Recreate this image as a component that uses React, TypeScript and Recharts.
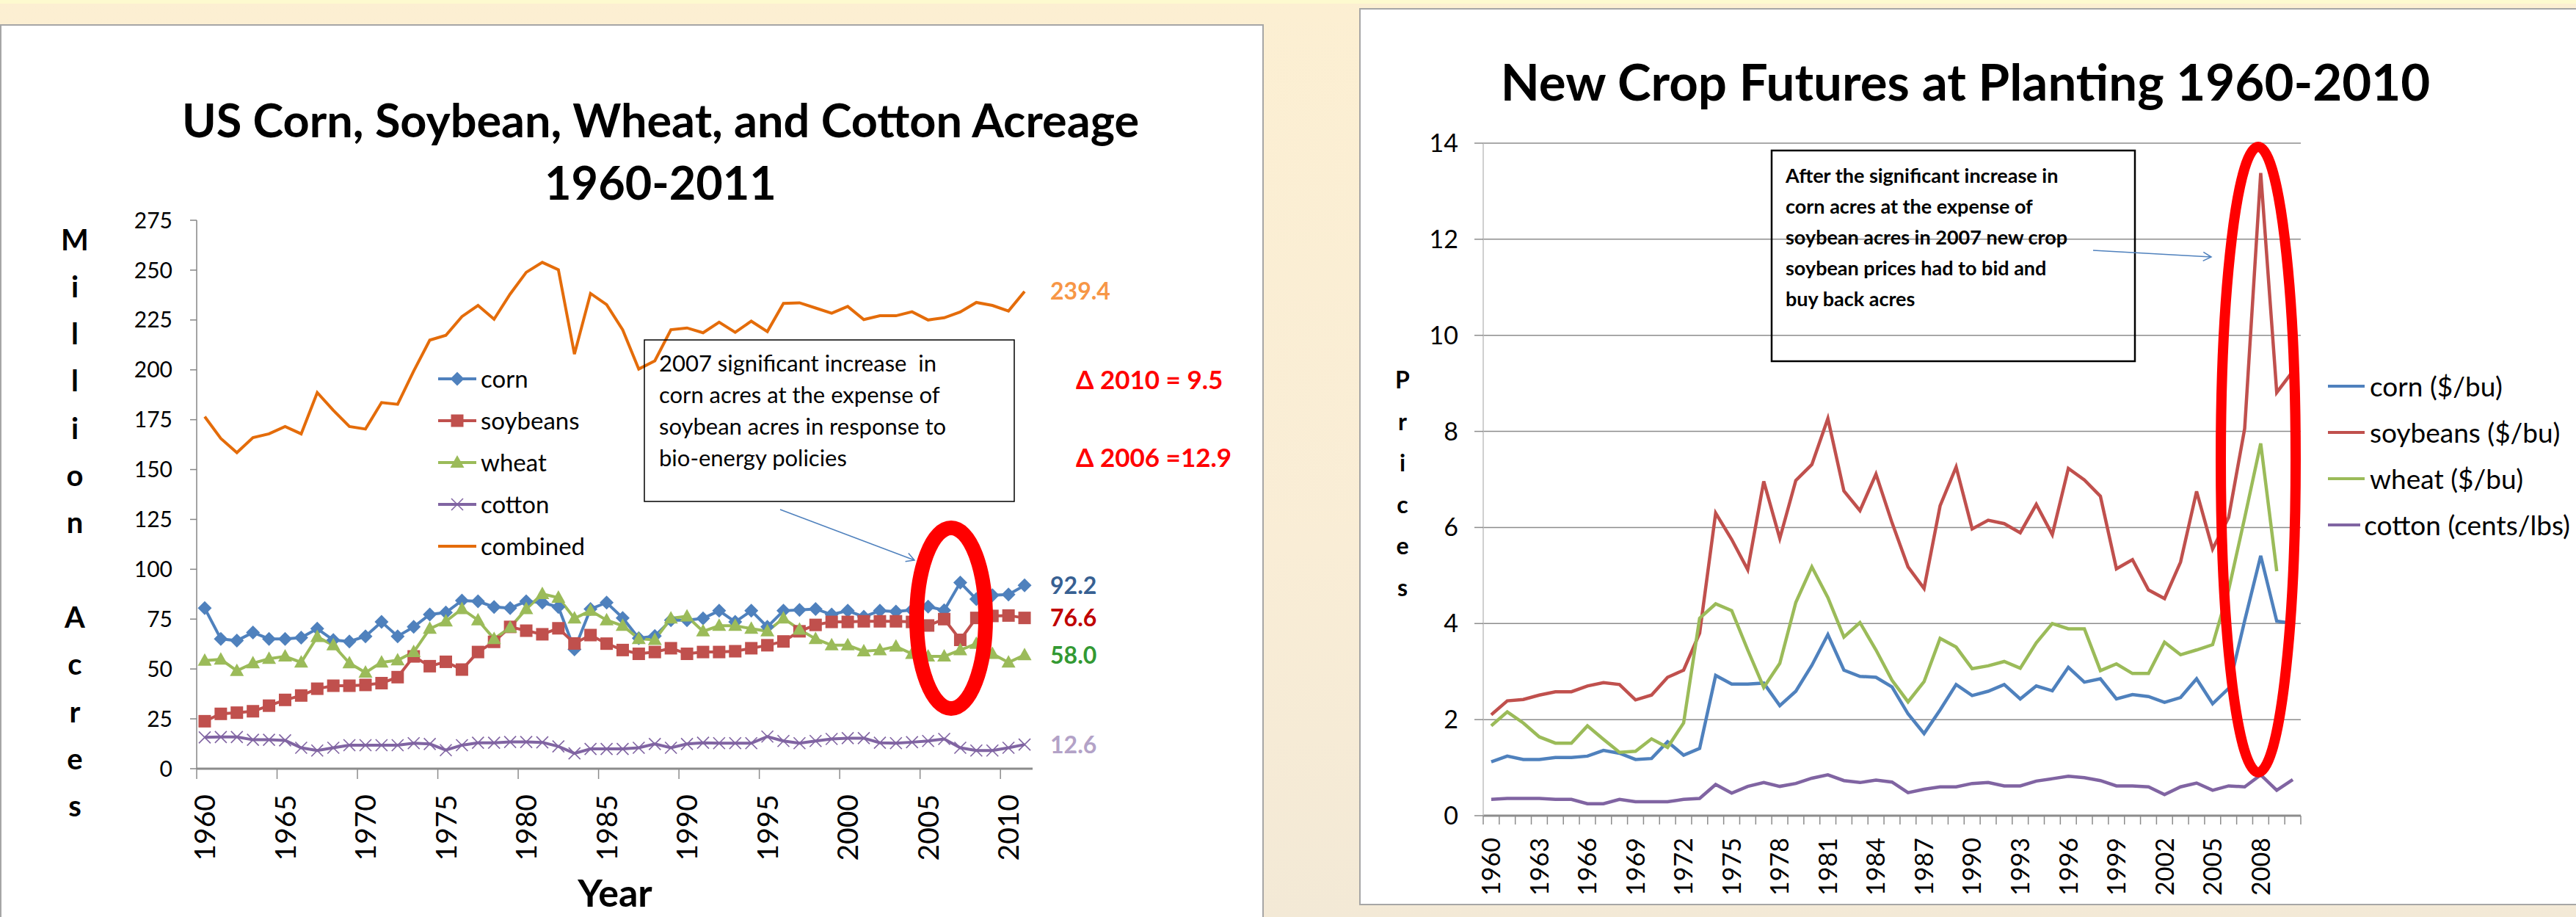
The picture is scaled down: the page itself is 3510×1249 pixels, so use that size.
import React from 'react';
import { LineChart, Line, XAxis, YAxis, CartesianGrid, Legend } from 'recharts';

const FONT = 'Lato, "Open Sans", sans-serif';

// ---- left chart: planted acreage (million acres) ----
const acreYears = [
  1960, 1961, 1962, 1963, 1964, 1965, 1966, 1967, 1968, 1969,
  1970, 1971, 1972, 1973, 1974, 1975, 1976, 1977, 1978, 1979,
  1980, 1981, 1982, 1983, 1984, 1985, 1986, 1987, 1988, 1989,
  1990, 1991, 1992, 1993, 1994, 1995, 1996, 1997, 1998, 1999,
  2000, 2001, 2002, 2003, 2004, 2005, 2006, 2007, 2008, 2009,
  2010, 2011,
];
const cornAcres = [
  80.5, 65.1, 64.2, 68.3, 65.1, 65.1, 65.7, 70.2, 64.5, 63.8,
  66.4, 73.6, 66.4, 71.1, 77.3, 78.3, 84.3, 83.9, 81.1, 80.5,
  83.9, 83.3, 81.1, 59.8, 80.1, 83.3, 75.6, 65.4, 66.5, 74.5,
  74.5, 75.4, 79.2, 73.6, 79.2, 71.1, 79.2, 79.6, 80.1, 77.3,
  79.2, 76.2, 79.2, 78.8, 79.6, 81.3, 79.4, 93.3, 85.0, 87.0,
  87.3, 91.9,
];
const soyAcres = [
  23.8, 27.5, 28.1, 28.8, 31.6, 34.5, 36.7, 40.1, 41.6, 41.6,
  42.0, 42.9, 45.9, 56.3, 51.4, 53.6, 49.7, 58.5, 63.6, 71.1,
  69.2, 67.4, 70.4, 62.8, 67.0, 62.7, 59.5, 57.6, 58.5, 60.4,
  57.6, 58.5, 58.5, 58.9, 60.4, 61.9, 63.8, 68.9, 72.1, 73.6,
  73.6, 73.9, 73.9, 73.9, 73.6, 71.8, 75.0, 64.6, 75.6, 76.6,
  76.8, 75.6,
];
const wheatAcres = [
  54.2, 54.8, 49.1, 52.9, 55.1, 56.3, 53.3, 66.1, 61.9, 52.9,
  48.2, 53.3, 54.4, 58.5, 70.2, 73.9, 80.1, 74.5, 65.1, 70.8,
  80.1, 87.6, 85.8, 75.4, 79.2, 74.5, 71.7, 65.1, 64.6, 75.4,
  76.4, 68.9, 71.7, 71.7, 70.2, 68.9, 75.4, 69.8, 65.1, 61.9,
  61.9, 58.9, 59.5, 61.3, 57.6, 56.3, 56.3, 59.5, 62.7, 57.6,
  53.3, 57.0,
];
const cottonAcres = [
  15.7, 15.9, 15.9, 14.5, 14.5, 14.2, 10.5, 9.1, 10.5, 11.8,
  11.8, 11.8, 11.8, 12.8, 12.4, 9.3, 11.8, 13.0, 13.0, 13.4,
  13.4, 13.2, 11.2, 7.7, 9.9, 9.9, 9.9, 10.5, 12.4, 10.5,
  12.4, 13.0, 12.8, 12.8, 12.8, 16.1, 13.9, 12.8, 13.9, 14.9,
  15.3, 15.3, 13.0, 12.8, 13.3, 13.9, 14.9, 10.5, 9.1, 9.1,
  10.5, 12.1,
];
const combinedAcres = [
  176.5, 165.6, 158.5, 166.0, 167.9, 171.6, 167.9, 188.6, 179.7, 171.6,
  170.3, 183.6, 182.7, 199.4, 214.9, 217.3, 226.7, 232.3, 225.4, 238.0,
  248.9, 253.9, 250.2, 207.9, 238.3, 232.7, 220.1, 200.4, 204.5, 220.1,
  221.0, 218.6, 223.9, 218.8, 224.4, 219.2, 233.3, 233.6, 231.0, 228.4,
  231.8, 225.2, 227.1, 227.1, 229.1, 225.0, 226.1, 229.0, 233.8, 232.3,
  229.5, 239.3,
];
const acreTicks = [0, 25, 50, 75, 100, 125, 150, 175, 200, 225, 250, 275];
const acreLabelYears = [1960, 1965, 1970, 1975, 1980, 1985, 1990, 1995, 2000, 2005, 2010];
const acreTickMarks = [1959.5, 1964.5, 1969.5, 1974.5, 1979.5, 1984.5, 1989.5, 1994.5, 1999.5, 2004.5, 2009.5];
const acreEndLabels = { combined: '239.4', corn: '92.2', soybeans: '76.6', wheat: '58.0', cotton: '12.6' };

// ---- right chart: new crop futures at planting ----
const futureYears = [
  1960, 1961, 1962, 1963, 1964, 1965, 1966, 1967, 1968, 1969,
  1970, 1971, 1972, 1973, 1974, 1975, 1976, 1977, 1978, 1979,
  1980, 1981, 1982, 1983, 1984, 1985, 1986, 1987, 1988, 1989,
  1990, 1991, 1992, 1993, 1994, 1995, 1996, 1997, 1998, 1999,
  2000, 2001, 2002, 2003, 2004, 2005, 2006, 2007, 2008, 2009,
  2010,
];
const cornPrice = [
  1.12, 1.24, 1.17, 1.17, 1.21, 1.21, 1.24, 1.36, 1.30, 1.17,
  1.19, 1.54, 1.26, 1.40, 2.92, 2.74, 2.74, 2.76, 2.29, 2.59,
  3.13, 3.77, 3.03, 2.90, 2.88, 2.68, 2.12, 1.71, 2.20, 2.73,
  2.50, 2.59, 2.73, 2.43, 2.70, 2.60, 3.09, 2.78, 2.85, 2.43,
  2.52, 2.48, 2.36, 2.46, 2.85, 2.33, 2.65, 4.06, 5.41, 4.05,
  4.00,
];
const soyPrice = [
  2.10, 2.39, 2.42, 2.51, 2.58, 2.58, 2.70, 2.77, 2.73, 2.41,
  2.51, 2.88, 3.03, 3.80, 6.30, 5.75, 5.12, 6.96, 5.77, 6.98,
  7.31, 8.27, 6.76, 6.35, 7.11, 6.10, 5.18, 4.73, 6.45, 7.26,
  5.97, 6.15, 6.08, 5.89, 6.48, 5.85, 7.23, 6.99, 6.65, 5.14,
  5.33, 4.70, 4.52, 5.28, 6.75, 5.55, 6.21, 8.06, 13.38, 8.81,
  9.25,
];
const wheatPrice = [
  1.87, 2.16, 1.93, 1.64, 1.51, 1.51, 1.87, 1.59, 1.32, 1.34,
  1.60, 1.42, 1.93, 4.11, 4.41, 4.27, 3.45, 2.67, 3.17, 4.44,
  5.18, 4.54, 3.72, 4.02, 3.45, 2.82, 2.37, 2.79, 3.69, 3.51,
  3.06, 3.12, 3.21, 3.07, 3.60, 4.00, 3.89, 3.89, 3.02, 3.16,
  2.96, 2.96, 3.61, 3.35, 3.45, 3.56, 4.70, 6.20, 7.75, 5.09,
  null,
];
const cottonPrice = [
  0.34, 0.36, 0.36, 0.36, 0.34, 0.34, 0.25, 0.25, 0.34, 0.29,
  0.29, 0.29, 0.34, 0.36, 0.65, 0.47, 0.61, 0.69, 0.61, 0.67,
  0.78, 0.85, 0.73, 0.69, 0.74, 0.70, 0.48, 0.55, 0.60, 0.60,
  0.67, 0.69, 0.62, 0.62, 0.72, 0.77, 0.82, 0.79, 0.73, 0.62,
  0.62, 0.60, 0.44, 0.60, 0.68, 0.53, 0.62, 0.60, 0.85, 0.53,
  0.75,
];
const priceTicks = [0, 2, 4, 6, 8, 10, 12, 14];
const priceLabelYears = [1960, 1963, 1966, 1969, 1972, 1975, 1978, 1981, 1984, 1987, 1990, 1993, 1996, 1999, 2002, 2005, 2008];
const priceTickMarks = futureYears.map((y) => y - 0.5).concat([2010.5]);

const acreData = acreYears.map((year, i) => ({
  year,
  corn: cornAcres[i],
  soybeans: soyAcres[i],
  wheat: wheatAcres[i],
  cotton: cottonAcres[i],
  combined: combinedAcres[i],
}));

const priceData = futureYears.map((year, i) => ({
  year,
  corn: cornPrice[i],
  soybeans: soyPrice[i],
  wheat: wheatPrice[i],
  cotton: cottonPrice[i],
}));

const ACRE_KEYS = ['corn', 'soybeans', 'wheat', 'cotton', 'combined'];
const PRICE_SERIES = [
  { key: 'corn', name: 'corn ($/bu)' },
  { key: 'soybeans', name: 'soybeans ($/bu)' },
  { key: 'wheat', name: 'wheat ($/bu)' },
  { key: 'cotton', name: 'cotton (cents/lbs)' },
];

const COLORS = {
  corn: '#4f81bd',
  soybeans: '#c0504d',
  wheat: '#9bbb59',
  cotton: '#8064a2',
  combined: '#e46c0a',
};

const END_COLORS = {
  combined: '#f79646',
  corn: '#376092',
  soybeans: '#c00000',
  wheat: '#339933',
  cotton: '#b3a2c7',
};

const MARKERS: Record<string, string> = {
  corn: 'diamond',
  soybeans: 'square',
  wheat: 'triangle',
  cotton: 'x',
  combined: 'none',
};

function Marker({ shape, cx, cy, color }: { shape: string; cx: number; cy: number; color: string }) {
  if (cx == null || cy == null) return null;
  if (shape === 'diamond') {
    const s = 9.5;
    return <polygon points={`${cx},${cy - s} ${cx + s},${cy} ${cx},${cy + s} ${cx - s},${cy}`} fill={color} />;
  }
  if (shape === 'square') {
    return <rect x={cx - 8.5} y={cy - 8.5} width={17} height={17} fill={color} />;
  }
  if (shape === 'triangle') {
    return <polygon points={`${cx},${cy - 10} ${cx + 9.5},${cy + 7} ${cx - 9.5},${cy + 7}`} fill={color} />;
  }
  if (shape === 'x') {
    const s = 8;
    return (
      <g stroke={color} strokeWidth={1.6}>
        <line x1={cx - s} y1={cy - s} x2={cx + s} y2={cy + s} />
        <line x1={cx - s} y1={cy + s} x2={cx + s} y2={cy - s} />
      </g>
    );
  }
  return null;
}

const dotFor = (key: string) => (p: any) => (
  <g key={`${key}-${p.index}`}>
    <Marker shape={MARKERS[key]} cx={p.cx} cy={p.cy} color={COLORS[key]} />
  </g>
);

const endLabelFor = (key: string, last: number) => (p: any) => {
  if (p.index !== last) return <g key={`l-${key}-${p.index}`} />;
  return (
    <text
      key={`l-${key}-${p.index}`}
      x={p.x + 35}
      y={p.y}
      dy="0.36em"
      fill={END_COLORS[key]}
      fontSize={32}
      fontWeight={700}
      fontFamily={FONT}
    >
      {acreEndLabels[key]}
    </text>
  );
};

function YearTick({ x, y, payload, fontSize, offset, tickLen }: any) {
  const v = payload.value;
  if (v % 1 !== 0) {
    return <line x1={x} x2={x} y1={y} y2={y + tickLen} stroke="#8c8c8c" strokeWidth={1.5} />;
  }
  const ty = y + offset;
  return (
    <text
      x={x}
      y={ty}
      dy="0.36em"
      transform={`rotate(-90 ${x} ${ty})`}
      textAnchor="end"
      fontSize={fontSize}
      fontFamily={FONT}
      fill="#000"
    >
      {v}
    </text>
  );
}

// keep legend rows in series order (the library sorts them by name otherwise)
const inOrder = (payload: any[], names: string[]) =>
  [...(payload || [])].sort((a, b) => names.indexOf(a.value) - names.indexOf(b.value));

function AcreLegend({ payload }: any) {
  return (
    <div style={{ fontFamily: FONT }}>
      {inOrder(payload, ACRE_KEYS).map((item: any) => (
        <div key={item.value} style={{ display: 'flex', alignItems: 'center', height: 57 }}>
          <svg width={56} height={30}>
            <line x1={2} x2={54} y1={15} y2={15} stroke={COLORS[item.value]} strokeWidth={4} />
            <Marker shape={MARKERS[item.value]} cx={28} cy={15} color={COLORS[item.value]} />
          </svg>
          <span style={{ fontSize: 33, marginLeft: 4, color: '#000', lineHeight: 1 }}>{item.value}</span>
        </div>
      ))}
    </div>
  );
}

function PriceLegend({ payload }: any) {
  const names = PRICE_SERIES.map((s) => s.name);
  return (
    <div style={{ fontFamily: FONT }}>
      {inOrder(payload, names).map((item: any) => (
        <div key={item.value} style={{ display: 'flex', alignItems: 'center', height: 63 }}>
          <svg width={52} height={20}>
            <line x1={0} x2={50} y1={10} y2={10} stroke={item.color} strokeWidth={4} />
          </svg>
          <span style={{ fontSize: 37, marginLeft: 5, color: '#000', lineHeight: 1, whiteSpace: 'nowrap' }}>
            {item.value}
          </span>
        </div>
      ))}
    </div>
  );
}

function AcreageChart() {
  const last = acreYears.length - 1;
  return (
    <div style={{ position: 'absolute', left: 0, top: 0 }}>
      <LineChart
        width={1720}
        height={1249}
        data={acreData}
        margin={{ top: 300, right: 313, bottom: 62, left: 188 }}
      >
        <XAxis
          dataKey="year"
          type="number"
          domain={[1959.5, 2011.5]}
          ticks={[...acreTickMarks, ...acreLabelYears].sort((a, b) => a - b)}
          interval={0}
          height={140}
          tickSize={0}
          tickMargin={0}
          tickLine={false}
          axisLine={{ stroke: '#8c8c8c', strokeWidth: 3 }}
          tick={<YearTick fontSize={39} offset={35} tickLen={14} />}
        />
        <YAxis
          domain={[0, 275]}
          ticks={acreTicks}
          interval={0}
          width={80}
          tickSize={9}
          tickMargin={24}
          axisLine={{ stroke: '#868686', strokeWidth: 1.5 }}
          tickLine={{ stroke: '#868686', strokeWidth: 1.5 }}
          tick={{ fontSize: 30, fill: '#000', fontFamily: FONT }}
        />
        <Legend
          layout="vertical"
          align="center"
          verticalAlign="middle"
          content={<AcreLegend />}
          wrapperStyle={{ left: 595, top: 487, width: 300 }}
        />
        {ACRE_KEYS.map((key) => (
          <Line
            key={key}
            dataKey={key}
            name={key}
            stroke={COLORS[key]}
            strokeWidth={4}
            dot={key === 'combined' ? false : dotFor(key)}
            activeDot={false}
            label={endLabelFor(key, last)}
            isAnimationActive={false}
          />
        ))}
      </LineChart>
    </div>
  );
}

function FuturesChart() {
  return (
    <div style={{ position: 'absolute', left: 1852, top: 0 }}>
      <LineChart
        width={1658}
        height={1249}
        data={priceData}
        margin={{ top: 195, right: 375, bottom: 18, left: 89 }}
      >
        <CartesianGrid vertical={false} stroke="#8c8c8c" strokeWidth={1.5} />
        <XAxis
          dataKey="year"
          type="number"
          domain={[1959.5, 2010.5]}
          ticks={[...priceTickMarks, ...priceLabelYears].sort((a, b) => a - b)}
          interval={0}
          height={120}
          tickSize={0}
          tickMargin={0}
          tickLine={false}
          axisLine={{ stroke: '#8c8c8c', strokeWidth: 3 }}
          tick={<YearTick fontSize={34} offset={30} tickLen={12} />}
        />
        <YAxis
          domain={[0, 14]}
          ticks={priceTicks}
          interval={0}
          width={80}
          tickSize={12}
          tickMargin={22}
          axisLine={{ stroke: '#bfbfbf', strokeWidth: 1.5 }}
          tickLine={{ stroke: '#8c8c8c', strokeWidth: 1.5 }}
          tick={{ fontSize: 34, fill: '#000', fontFamily: FONT }}
        />
        <Legend
          layout="vertical"
          align="center"
          verticalAlign="middle"
          content={<PriceLegend />}
          wrapperStyle={{ left: 1320, top: 494, width: 330 }}
        />
        {PRICE_SERIES.map((s) => (
          <Line
            key={s.key}
            dataKey={s.key}
            name={s.name}
            stroke={COLORS[s.key]}
            strokeWidth={4.5}
            dot={false}
            activeDot={false}
            isAnimationActive={false}
          />
        ))}
      </LineChart>
    </div>
  );
}

function Overlay() {
  const millionAcres = ['M', 'i', 'l', 'l', 'i', 'o', 'n', '', 'A', 'c', 'r', 'e', 's'];
  const prices = ['P', 'r', 'i', 'c', 'e', 's'];
  const leftBox = [
    '2007 significant increase  in',
    'corn acres at the expense of',
    'soybean acres in response to',
    'bio-energy policies',
  ];
  const rightBox = [
    'After the significant increase in',
    'corn acres at the expense of',
    'soybean acres in 2007 new crop',
    'soybean prices had to bid and',
    'buy back acres',
  ];
  return (
    <svg
      width={3510}
      height={1249}
      style={{ position: 'absolute', left: 0, top: 0, pointerEvents: 'none' }}
      fontFamily={FONT}
    >
      <defs>
        <marker id="openArrow" markerWidth="14" markerHeight="14" refX="12" refY="7" orient="auto" markerUnits="userSpaceOnUse">
          <path d="M1,1 L12,7 L1,13" fill="none" stroke="#4f81bd" strokeWidth={1.5} />
        </marker>
      </defs>

      {/* left titles */}
      <text x={900} y={187} textAnchor="middle" fontSize={63} fontWeight={700}>
        US Corn, Soybean, Wheat, and Cotton Acreage
      </text>
      <text x={900} y={272} textAnchor="middle" fontSize={63} fontWeight={700}>
        1960-2011
      </text>
      {millionAcres.map((ch, k) => (
        <text key={k} x={102} y={326.5 + 64.3 * k + 14} textAnchor="middle" fontSize={40} fontWeight={700}>
          {ch}
        </text>
      ))}
      <text x={838} y={1235} textAnchor="middle" fontSize={52} fontWeight={700}>
        Year
      </text>

      {/* left annotation */}
      <rect x={878} y={463} width={504} height={220} fill="none" stroke="#000" strokeWidth={1.5} />
      {leftBox.map((t, k) => (
        <text key={k} x={898} y={506 + 43 * k} fontSize={31} style={{ whiteSpace: 'pre' }}>
          {t}
        </text>
      ))}
      <line x1={1063} y1={694} x2={1246} y2={763} stroke="#4f81bd" strokeWidth={1.5} markerEnd="url(#openArrow)" />
      <ellipse cx={1296} cy={842} rx={47} ry={123} fill="none" stroke="#ff0000" strokeWidth={20} />
      <text x={1466} y={530} fontSize={35} fontWeight={700} fill="#ff0000">
        {'\u0394 2010 = 9.5'}
      </text>
      <text x={1466} y={636} fontSize={35} fontWeight={700} fill="#ff0000">
        {'\u0394 2006 =12.9'}
      </text>

      {/* right titles */}
      <text x={2678} y={137} textAnchor="middle" fontSize={69} fontWeight={700}>
        New Crop Futures at Planting 1960-2010
      </text>
      {prices.map((ch, k) => (
        <text key={k} x={1911} y={518 + 56.6 * k + 11} textAnchor="middle" fontSize={32} fontWeight={700}>
          {ch}
        </text>
      ))}

      {/* right annotation */}
      <rect x={2414} y={205} width={495} height={287} fill="none" stroke="#000" strokeWidth={2.5} />
      {rightBox.map((t, k) => (
        <text key={k} x={2433} y={249 + 42 * k} fontSize={27} fontWeight={700}>
          {t}
        </text>
      ))}
      <line x1={2852} y1={341} x2={3013} y2={350} stroke="#4f81bd" strokeWidth={1.5} markerEnd="url(#openArrow)" />
      <ellipse cx={3077} cy={626} rx={51} ry={426} fill="none" stroke="#ff0000" strokeWidth={14} />
    </svg>
  );
}

export default function App() {
  return (
    <div
      style={{
        position: 'absolute',
        left: 0,
        top: 0,
        width: 3510,
        height: 1249,
        overflow: 'hidden',
        background: 'linear-gradient(180deg, #fcefd2 0%, #f9edd6 60%, #f3e9d6 100%)',
        fontFamily: FONT,
      }}
    >
      <div style={{ position: 'absolute', left: 0, top: 0, width: 3510, height: 5, background: '#fdfacf' }} />
      <div
        style={{
          position: 'absolute',
          left: 0,
          top: 33,
          width: 1718,
          height: 1240,
          background: '#fff',
          border: '2px solid #a6a6a6',
        }}
      />
      <div
        style={{
          position: 'absolute',
          left: 1852,
          top: 11,
          width: 1700,
          height: 1218,
          background: '#fff',
          border: '2px solid #a6a6a6',
        }}
      />
      <AcreageChart />
      <FuturesChart />
      <Overlay />
    </div>
  );
}
